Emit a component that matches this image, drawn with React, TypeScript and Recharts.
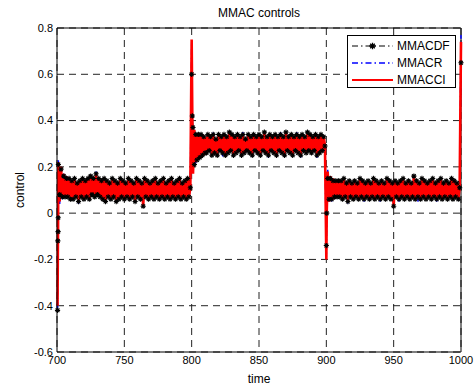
import React from 'react';
import {
    LineChart,
    Line,
    XAxis,
    YAxis,
    CartesianGrid,
    ReferenceLine,
} from 'recharts';

// sample times (extra samples around the set-point jumps)
const time = [
    700.4, 700.6, 700.8, 700.9,
    701, 702, 703, 704, 705, 706, 707, 708, 709, 710,
    711, 712, 713, 714, 715, 716, 717, 718, 719, 720,
    721, 722, 723, 724, 725, 726, 727, 728, 729, 730,
    731, 732, 733, 734, 735, 736, 737, 738, 739, 740,
    741, 742, 743, 744, 745, 746, 747, 748, 749, 750,
    751, 752, 753, 754, 755, 756, 757, 758, 759, 760,
    761, 762, 763, 764, 765, 766, 767, 768, 769, 770,
    771, 772, 773, 774, 775, 776, 777, 778, 779, 780,
    781, 782, 783, 784, 785, 786, 787, 788, 789, 790,
    791, 792, 793, 794, 795, 796, 797, 798, 799,
    800, 800.5,
    801, 802, 803, 804, 805, 806, 807, 808, 809, 810,
    811, 812, 813, 814, 815, 816, 817, 818, 819, 820,
    821, 822, 823, 824, 825, 826, 827, 828, 829, 830,
    831, 832, 833, 834, 835, 836, 837, 838, 839, 840,
    841, 842, 843, 844, 845, 846, 847, 848, 849, 850,
    851, 852, 853, 854, 855, 856, 857, 858, 859, 860,
    861, 862, 863, 864, 865, 866, 867, 868, 869, 870,
    871, 872, 873, 874, 875, 876, 877, 878, 879, 880,
    881, 882, 883, 884, 885, 886, 887, 888, 889, 890,
    891, 892, 893, 894, 895, 896, 897, 898, 899,
    900, 900.3,
    901, 902, 903, 904, 905, 906, 907, 908, 909, 910,
    911, 912, 913, 914, 915, 916, 917, 918, 919, 920,
    921, 922, 923, 924, 925, 926, 927, 928, 929, 930,
    931, 932, 933, 934, 935, 936, 937, 938, 939, 940,
    941, 942, 943, 944, 945, 946, 947, 948, 949, 950,
    951, 952, 953, 954, 955, 956, 957, 958, 959, 960,
    961, 962, 963, 964, 965, 966, 967, 968, 969, 970,
    971, 972, 973, 974, 975, 976, 977, 978, 979, 980,
    981, 982, 983, 984, 985, 986, 987, 988, 989, 990,
    991, 992, 993, 994, 995, 996, 997, 998, 999, 1000,
];

const mmacdf = [
    -0.42, -0.12, -0.08, -0.02,
    0.21, 0.08, 0.19, 0.07, 0.16, 0.07, 0.15, 0.07, 0.15, 0.06,
    0.14, 0.06, 0.15, 0.07, 0.13, 0.05, 0.14, 0.07, 0.15, 0.06,
    0.14, 0.07, 0.15, 0.06, 0.16, 0.08, 0.15, 0.07, 0.17, 0.08,
    0.15, 0.07, 0.14, 0.06, 0.15, 0.05, 0.14, 0.07, 0.13, 0.06,
    0.15, 0.07, 0.14, 0.05, 0.13, 0.06, 0.15, 0.07, 0.14, 0.06,
    0.13, 0.07, 0.15, 0.06, 0.14, 0.07, 0.13, 0.05, 0.15, 0.07,
    0.14, 0.06, 0.13, 0.03, 0.15, 0.07, 0.14, 0.06, 0.13, 0.07,
    0.14, 0.06, 0.15, 0.07, 0.13, 0.06, 0.14, 0.07, 0.15, 0.06,
    0.13, 0.07, 0.14, 0.06, 0.15, 0.07, 0.13, 0.06, 0.14, 0.07,
    0.15, 0.06, 0.13, 0.07, 0.14, 0.06, 0.15, 0.07, 0.11,
    0.60, 0.42,
    0.37, 0.21, 0.34, 0.23, 0.34, 0.24, 0.34, 0.25, 0.33, 0.26,
    0.26, 0.34, 0.27, 0.33, 0.25, 0.34, 0.26, 0.32, 0.25, 0.34,
    0.27, 0.33, 0.26, 0.34, 0.25, 0.33, 0.26, 0.35, 0.27, 0.34,
    0.25, 0.33, 0.26, 0.34, 0.27, 0.33, 0.25, 0.34, 0.26, 0.32,
    0.27, 0.34, 0.26, 0.33, 0.25, 0.34, 0.27, 0.33, 0.26, 0.34,
    0.25, 0.33, 0.27, 0.35, 0.26, 0.33, 0.25, 0.34, 0.27, 0.33,
    0.26, 0.34, 0.25, 0.33, 0.27, 0.34, 0.26, 0.33, 0.25, 0.35,
    0.27, 0.33, 0.26, 0.34, 0.25, 0.33, 0.27, 0.34, 0.26, 0.33,
    0.25, 0.34, 0.27, 0.33, 0.26, 0.35, 0.27, 0.34, 0.26, 0.33,
    0.27, 0.34, 0.25, 0.33, 0.26, 0.34, 0.27, 0.33, 0.29,
    -0.14, 0.0,
    0.15, 0.06, 0.15, 0.06, 0.14, 0.07, 0.14, 0.07, 0.14, 0.07,
    0.14, 0.06, 0.15, 0.07, 0.13, 0.05, 0.14, 0.07, 0.13, 0.06,
    0.14, 0.07, 0.13, 0.06, 0.15, 0.07, 0.14, 0.06, 0.13, 0.07,
    0.14, 0.06, 0.13, 0.07, 0.15, 0.06, 0.14, 0.07, 0.13, 0.06,
    0.14, 0.07, 0.13, 0.06, 0.15, 0.07, 0.14, 0.06, 0.13, 0.03,
    0.14, 0.07, 0.13, 0.06, 0.14, 0.07, 0.15, 0.06, 0.13, 0.07,
    0.14, 0.06, 0.13, 0.07, 0.16, 0.06, 0.14, 0.07, 0.13, 0.06,
    0.15, 0.07, 0.14, 0.06, 0.13, 0.07, 0.14, 0.06, 0.15, 0.07,
    0.13, 0.06, 0.14, 0.07, 0.15, 0.06, 0.13, 0.07, 0.14, 0.06,
    0.13, 0.07, 0.15, 0.06, 0.14, 0.07, 0.13, 0.06, 0.11, 0.65,
];

const mmacr = [
    -0.41, -0.20, -0.05, 0.10,
    0.23, 0.04, 0.20, 0.06, 0.17, 0.07, 0.16, 0.07, 0.15, 0.06,
    0.14, 0.06, 0.15, 0.07, 0.13, 0.04, 0.14, 0.07, 0.15, 0.06,
    0.14, 0.07, 0.15, 0.06, 0.16, 0.08, 0.15, 0.07, 0.18, 0.08,
    0.15, 0.07, 0.14, 0.06, 0.15, 0.05, 0.14, 0.07, 0.13, 0.06,
    0.15, 0.07, 0.14, 0.05, 0.13, 0.06, 0.15, 0.07, 0.14, 0.06,
    0.13, 0.07, 0.15, 0.06, 0.14, 0.07, 0.13, 0.05, 0.15, 0.07,
    0.14, 0.06, 0.13, 0.04, 0.15, 0.07, 0.14, 0.06, 0.13, 0.07,
    0.14, 0.06, 0.15, 0.07, 0.13, 0.06, 0.14, 0.07, 0.15, 0.06,
    0.13, 0.07, 0.14, 0.06, 0.15, 0.07, 0.13, 0.06, 0.14, 0.07,
    0.15, 0.05, 0.13, 0.07, 0.14, 0.06, 0.15, 0.07, 0.11,
    0.74, 0.41,
    0.18, 0.35, 0.21, 0.34, 0.23, 0.34, 0.24, 0.34, 0.26, 0.33,
    0.26, 0.34, 0.27, 0.33, 0.25, 0.35, 0.26, 0.32, 0.25, 0.34,
    0.27, 0.33, 0.24, 0.34, 0.25, 0.33, 0.26, 0.35, 0.27, 0.34,
    0.24, 0.33, 0.26, 0.34, 0.27, 0.33, 0.25, 0.35, 0.26, 0.32,
    0.27, 0.34, 0.26, 0.33, 0.24, 0.34, 0.27, 0.33, 0.26, 0.34,
    0.25, 0.33, 0.27, 0.36, 0.26, 0.33, 0.24, 0.34, 0.27, 0.33,
    0.26, 0.34, 0.25, 0.33, 0.27, 0.35, 0.26, 0.33, 0.24, 0.35,
    0.27, 0.33, 0.26, 0.34, 0.25, 0.33, 0.27, 0.35, 0.26, 0.33,
    0.24, 0.34, 0.27, 0.33, 0.26, 0.36, 0.27, 0.34, 0.26, 0.33,
    0.27, 0.34, 0.24, 0.33, 0.26, 0.34, 0.27, 0.33, 0.29,
    -0.19, 0.0,
    0.19, 0.05, 0.16, 0.05, 0.15, 0.06, 0.14, 0.07, 0.14, 0.07,
    0.14, 0.06, 0.15, 0.07, 0.13, 0.04, 0.14, 0.07, 0.13, 0.06,
    0.14, 0.07, 0.13, 0.06, 0.15, 0.07, 0.14, 0.05, 0.13, 0.07,
    0.14, 0.06, 0.13, 0.07, 0.15, 0.06, 0.14, 0.07, 0.13, 0.05,
    0.14, 0.07, 0.13, 0.06, 0.15, 0.07, 0.14, 0.06, 0.13, 0.03,
    0.14, 0.07, 0.13, 0.05, 0.14, 0.07, 0.15, 0.06, 0.13, 0.07,
    0.14, 0.06, 0.13, 0.07, 0.16, 0.06, 0.14, 0.05, 0.13, 0.06,
    0.15, 0.07, 0.14, 0.06, 0.13, 0.07, 0.14, 0.06, 0.15, 0.07,
    0.13, 0.05, 0.14, 0.07, 0.15, 0.06, 0.13, 0.07, 0.14, 0.06,
    0.13, 0.07, 0.15, 0.06, 0.14, 0.07, 0.13, 0.05, 0.11, 0.77,
];

const mmacci = [
    -0.40, -0.20, -0.05, 0.10,
    0.22, 0.05, 0.20, 0.07, 0.17, 0.07, 0.16, 0.07, 0.15, 0.06,
    0.14, 0.06, 0.15, 0.07, 0.13, 0.05, 0.14, 0.07, 0.15, 0.06,
    0.14, 0.07, 0.15, 0.06, 0.16, 0.08, 0.15, 0.07, 0.17, 0.08,
    0.15, 0.07, 0.14, 0.06, 0.15, 0.05, 0.14, 0.07, 0.13, 0.06,
    0.15, 0.07, 0.14, 0.05, 0.13, 0.06, 0.15, 0.07, 0.14, 0.06,
    0.13, 0.07, 0.15, 0.06, 0.14, 0.07, 0.13, 0.05, 0.15, 0.07,
    0.14, 0.06, 0.13, 0.03, 0.15, 0.07, 0.14, 0.06, 0.13, 0.07,
    0.14, 0.06, 0.15, 0.07, 0.13, 0.06, 0.14, 0.07, 0.15, 0.06,
    0.13, 0.07, 0.14, 0.06, 0.15, 0.07, 0.13, 0.06, 0.14, 0.07,
    0.15, 0.06, 0.13, 0.07, 0.14, 0.06, 0.15, 0.07, 0.11,
    0.75, 0.40,
    0.17, 0.36, 0.22, 0.34, 0.23, 0.34, 0.24, 0.34, 0.25, 0.33,
    0.26, 0.34, 0.27, 0.33, 0.25, 0.34, 0.26, 0.32, 0.25, 0.34,
    0.27, 0.33, 0.26, 0.34, 0.25, 0.33, 0.26, 0.35, 0.27, 0.34,
    0.25, 0.33, 0.26, 0.34, 0.27, 0.33, 0.25, 0.34, 0.26, 0.32,
    0.27, 0.34, 0.26, 0.33, 0.25, 0.34, 0.27, 0.33, 0.26, 0.34,
    0.25, 0.33, 0.27, 0.35, 0.26, 0.33, 0.25, 0.34, 0.27, 0.33,
    0.26, 0.34, 0.25, 0.33, 0.27, 0.34, 0.26, 0.33, 0.25, 0.35,
    0.27, 0.33, 0.26, 0.34, 0.25, 0.33, 0.27, 0.34, 0.26, 0.33,
    0.25, 0.34, 0.27, 0.33, 0.26, 0.35, 0.27, 0.34, 0.26, 0.33,
    0.27, 0.34, 0.25, 0.33, 0.26, 0.34, 0.27, 0.33, 0.29,
    -0.20, 0.0,
    0.18, 0.05, 0.16, 0.06, 0.15, 0.06, 0.14, 0.07, 0.14, 0.07,
    0.14, 0.06, 0.15, 0.07, 0.13, 0.05, 0.14, 0.07, 0.13, 0.06,
    0.14, 0.07, 0.13, 0.06, 0.15, 0.07, 0.14, 0.06, 0.13, 0.07,
    0.14, 0.06, 0.13, 0.07, 0.15, 0.06, 0.14, 0.07, 0.13, 0.06,
    0.14, 0.07, 0.13, 0.06, 0.15, 0.07, 0.14, 0.06, 0.13, 0.03,
    0.14, 0.07, 0.13, 0.06, 0.14, 0.07, 0.15, 0.06, 0.13, 0.07,
    0.14, 0.06, 0.13, 0.07, 0.16, 0.06, 0.14, 0.07, 0.13, 0.06,
    0.15, 0.07, 0.14, 0.06, 0.13, 0.07, 0.14, 0.06, 0.15, 0.07,
    0.13, 0.06, 0.14, 0.07, 0.15, 0.06, 0.13, 0.07, 0.14, 0.06,
    0.13, 0.07, 0.15, 0.06, 0.14, 0.07, 0.13, 0.06, 0.11, 0.74,
];

const xTicks = [700, 750, 800, 850, 900, 950, 1000];
const yTicks = [-0.6, -0.4, -0.2, 0, 0.2, 0.4, 0.6, 0.8];

const FONT = '"Liberation Sans", Arial, Helvetica, sans-serif';

const chartData = time.map((t, i) => ({
    time: t,
    mmacdf: mmacdf[i],
    mmacr: mmacr[i],
    mmacci: mmacci[i],
}));

// matlab style '*' marker
function starPath(cx: number, cy: number, r = 2.6) {
    const d = r * 0.72;
    return `M${cx - r},${cy}H${cx + r}M${cx},${cy - r}V${cy + r}M${cx - d},${cy - d}L${cx + d},${cy + d}M${cx - d},${cy + d}L${cx + d},${cy - d}`;
}

const StarDot = (props: any) => {
    const { cx, cy, index } = props;
    if (cx == null || cy == null) return <g key={`s${index}`} />;
    return (
        <path
            key={`s${index}`}
            d={starPath(cx, cy)}
            stroke="#000"
            strokeWidth={1.1}
            strokeDasharray="none"
            fill="none"
        />
    );
};

function LegendBox() {
    const rows = [
        { name: 'MMACDF', color: '#000', dash: '6 3 1.5 3', star: true, width: 1 },
        { name: 'MMACR', color: '#0000ff', dash: '6 3 1.5 3', star: false, width: 1.5 },
        { name: 'MMACCI', color: '#ff0000', dash: undefined, star: false, width: 2 },
    ];
    return (
        <div
            style={{
                position: 'absolute',
                left: 347,
                top: 35,
                width: 109,
                height: 53,
                border: '1px solid #000',
                background: '#fff',
                boxSizing: 'border-box',
            }}
        >
            <svg width={109} height={53} style={{ position: 'absolute', left: -1, top: -1 }}>
                {rows.map((r, i) => {
                    const y = 11 + i * 17;
                    return (
                        <g key={r.name}>
                            <line x1={5} x2={46} y1={y} y2={y} stroke={r.color} strokeWidth={r.width} strokeDasharray={r.dash} />
                            {r.star && <path d={starPath(25.5, y, 3.2)} stroke="#000" strokeWidth={1.3} fill="none" />}
                            <text x={50} y={y + 4} fontFamily={FONT} fontSize={12} fill="#000">{r.name}</text>
                        </g>
                    );
                })}
            </svg>
        </div>
    );
}

export default function App() {
    return (
        <div style={{ position: 'absolute', left: 0, top: 0, width: 475, height: 390, background: '#fff', fontFamily: FONT }}>
            <LineChart
                width={475}
                height={390}
                data={chartData}
                margin={{ top: 28, right: 14, bottom: 0, left: 0 }}
            >
                <CartesianGrid
                    stroke="#222"
                    strokeDasharray="7 5"
                    horizontalValues={yTicks}
                    verticalValues={xTicks}
                />
                <XAxis
                    type="number"
                    dataKey="time"
                    domain={[700, 1000]}
                    ticks={xTicks}
                    tickLine={false}
                    axisLine={{ stroke: '#000' }}
                    tick={{ fontSize: 11, fill: '#000', fontFamily: FONT }}
                    tickSize={2}
                    tickMargin={2}
                    height={38}
                />
                <YAxis
                    type="number"
                    domain={[-0.6, 0.8]}
                    ticks={yTicks}
                    tickLine={false}
                    axisLine={{ stroke: '#000' }}
                    tick={{ fontSize: 11, fill: '#000', fontFamily: FONT }}
                    tickSize={2}
                    tickMargin={2}
                    width={57}
                />
                <ReferenceLine y={0.8} stroke="#000" strokeWidth={1} />
                <ReferenceLine x={1000} stroke="#000" strokeWidth={1} />
                <Line
                    type="linear"
                    dataKey="mmacdf"
                    stroke="#000"
                    strokeWidth={1.2}
                    strokeDasharray="6 3 1.5 3"
                    dot={StarDot}
                    activeDot={false}
                    isAnimationActive={false}
                />
                <Line
                    type="linear"
                    dataKey="mmacr"
                    stroke="#0000ff"
                    strokeWidth={1.5}
                    strokeDasharray="6 3 1.5 3"
                    dot={false}
                    activeDot={false}
                    isAnimationActive={false}
                />
                <Line
                    type="linear"
                    dataKey="mmacci"
                    stroke="#ff0000"
                    strokeWidth={2.6}
                    dot={false}
                    activeDot={false}
                    isAnimationActive={false}
                />
            </LineChart>
            <div style={{ position: 'absolute', left: 57, width: 404, top: 5, textAlign: 'center', fontSize: 12, lineHeight: '16px', color: '#000' }}>
                MMAC controls
            </div>
            <div style={{ position: 'absolute', left: 57, width: 404, top: 371, textAlign: 'center', fontSize: 12, lineHeight: '16px', color: '#000' }}>
                time
            </div>
            <div
                style={{
                    position: 'absolute',
                    left: 20,
                    top: 190,
                    fontSize: 12,
                    lineHeight: '16px',
                    color: '#000',
                    transform: 'translate(-50%, -50%) rotate(-90deg)',
                    whiteSpace: 'nowrap',
                }}
            >
                control
            </div>
            <LegendBox />
        </div>
    );
}
